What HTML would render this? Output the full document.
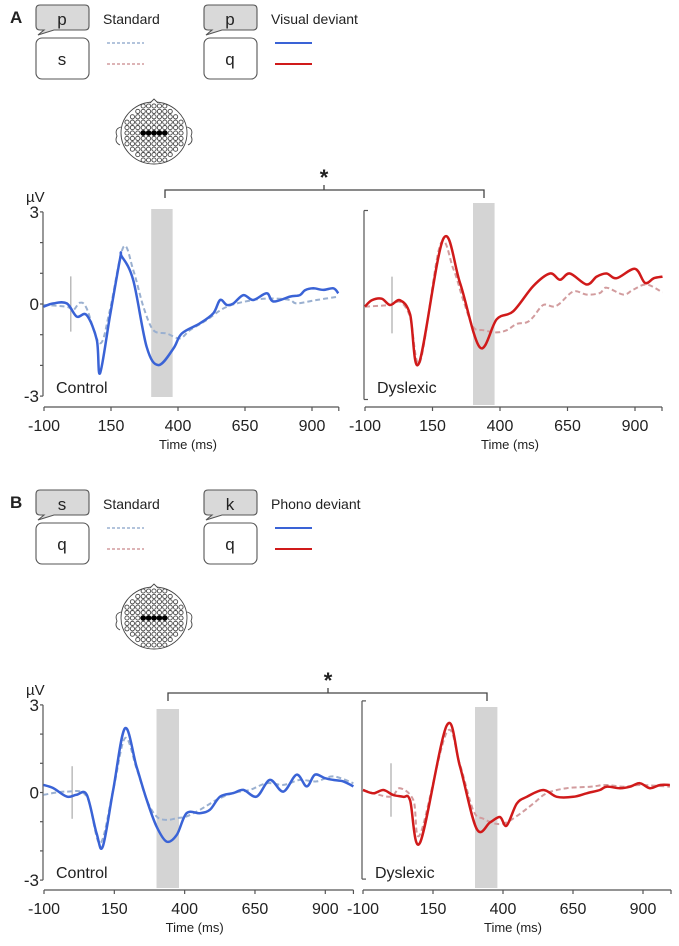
<!DOCTYPE html>
<html><head><meta charset="utf-8">
<style>
html,body{margin:0;padding:0;background:#fff;}
svg{display:block;font-family:"Liberation Sans",sans-serif;}
</style></head>
<body>
<svg id="fig" width="679" height="946" viewBox="0 0 679 946" xmlns="http://www.w3.org/2000/svg">
</svg>
<script>
// ---------- DATA ----------
const xTicks = [-100, 150, 400, 650, 900];
const yTickLabels = [3, 0, -3];
const bandRange = [300, 380];
// Panel A Control
const aCtrlDevT = [-102,-65,-15,22,59,97,109,146,184,190,233,283,327,383,414,482,532,557,582,607,644,681,731,756,818,855,874,905,942,980,998];
const aCtrlDevV = [-0.09,0.02,0.02,-0.41,-0.36,-1.17,-2.26,-0.4,1.48,1.55,0.78,-1.39,-1.99,-1.45,-0.96,-0.63,-0.30,0.13,-0.03,0.02,0.29,0.13,0.35,0.08,0.24,0.29,0.45,0.51,0.46,0.51,0.35];
const aCtrlStdT = [-102,-15,9,34,59,109,146,196,233,271,308,358,407,445,507,582,681,756,818,843,917,998];
const aCtrlStdV = [-0.03,-0.09,-0.20,0.04,-0.14,-1.28,-0.2,1.85,1.11,-0.09,-0.85,-0.96,-1.12,-0.85,-0.52,-0.09,0.13,0.18,0.13,0.02,0.13,0.24];
// Panel A Dyslexic
const aDysDevT = [-100,-75,-38,-7,30,67,100,190,252,326,388,449,523,585,622,659,721,758,795,832,900,937,970,1002];
const aDysDevV = [-0.05,0.15,0.2,0,0.15,-0.3,-1.85,2.1,0.7,-1.35,-0.45,-0.2,0.6,1.0,0.8,1.0,0.65,0.9,1.0,0.85,1.15,0.7,0.85,0.9];
const aDysStdT = [-100,-7,30,67,104,178,227,264,301,338,388,425,462,499,523,560,597,622,672,721,770,795,857,894,943,1002];
const aDysStdV = [-0.05,0,0.1,-0.38,-1.8,1.9,1.15,0.15,-0.7,-0.8,-0.87,-0.8,-0.6,-0.55,-0.38,0,-0.05,0.05,0.43,0.33,0.38,0.55,0.33,0.49,0.65,0.4];
// Panel B Control
const bCtrlDevT = [-102,-67,-19,16,52,87,109,146,188,229,265,300,336,372,407,455,490,526,573,609,656,703,751,798,834,863,899,928,964,1000];
const bCtrlDevV = [0.26,0.15,-0.14,-0.08,-0.08,-1.4,-1.85,0.09,2.2,0.89,-0.25,-1.16,-1.68,-1.45,-0.71,-0.71,-0.59,-0.14,-0.02,0.09,-0.14,0.43,0.03,0.61,0.21,0.61,0.49,0.43,0.38,0.21];
const bCtrlStdT = [-102,-19,52,99,146,188,229,265,300,336,372,407,455,514,573,632,692,751,810,869,928,1000];
const bCtrlStdV = [-0.08,0.03,-0.14,-1.74,0.09,1.86,0.83,-0.25,-0.82,-0.94,-0.88,-0.82,-0.59,-0.25,-0.02,0.09,0.32,0.26,0.43,0.38,0.55,0.32];
// Panel B Dyslexic
const bDysDevT = [-100,-63,-27,8,44,68,104,199,246,306,354,389,413,449,485,544,592,651,699,746,770,818,854,889,925,961,996];
const bDysDevV = [0,-0.11,0,-0.17,-0.23,-0.34,-1.77,2.17,0.8,-1.31,-1.09,-0.91,-1.2,-0.46,-0.23,0,-0.23,-0.23,-0.11,0,0.11,0.06,0.11,0.23,0.06,0.17,0.17];
const bDysStdT = [-100,-4,32,80,104,199,246,294,330,377,413,461,508,556,627,711,770,830,889,996];
const bDysStdV = [0,-0.23,0.06,-0.34,-1.49,1.94,0.86,-0.69,-0.97,-1.14,-1.09,-0.8,-0.46,-0.11,0.06,0.11,0.17,0.11,0.17,0.11];

// ---------- DRAW ----------
const svg = document.getElementById('fig');
const NS = 'http://www.w3.org/2000/svg';
function mk(tag, attrs, parent){
  const e = document.createElementNS(NS, tag);
  for (const k in attrs) e.setAttribute(k, attrs[k]);
  (parent||svg).appendChild(e);
  return e;
}
function txt(s, x, y, size, parent, anchor, weight){
  const t = mk('text', {x:x, y:y, 'font-size':size, fill:'#222', 'text-anchor':anchor||'start', 'font-weight':weight||'normal'}, parent);
  t.textContent = s;
  return t;
}
function smoothPath(pts){
  let d = 'M' + pts[0][0].toFixed(1) + ',' + pts[0][1].toFixed(1);
  for (let i=0;i<pts.length-1;i++){
    const p0 = pts[Math.max(0,i-1)], p1 = pts[i], p2 = pts[i+1], p3 = pts[Math.min(pts.length-1,i+2)];
    const c1x = p1[0]+(p2[0]-p0[0])/6, c1y = p1[1]+(p2[1]-p0[1])/6;
    const c2x = p2[0]-(p3[0]-p1[0])/6, c2y = p2[1]-(p3[1]-p1[1])/6;
    d += ' C'+c1x.toFixed(1)+','+c1y.toFixed(1)+' '+c2x.toFixed(1)+','+c2y.toFixed(1)+' '+p2[0].toFixed(1)+','+p2[1].toFixed(1);
  }
  return d;
}

function panel(cfg){
  const g = mk('g', {});
  
  
  const X = ms => cfg.x0 + (ms + 100) * cfg.pxms;
  const Y = uv => cfg.y0 - uv * cfg.pxuv;
  // band
  const band = mk('rect', {x:X(bandRange[0]), y:cfg.bandTop, width:X(bandRange[1])-X(bandRange[0]), height:cfg.bandBot-cfg.bandTop, fill:'#d4d4d4'}, g);
  
  
  // y axis
  const ya = mk('g', {stroke:'#555', 'stroke-width':1.2, fill:'none'}, g);
  
  
  mk('line', {x1:cfg.ax, y1:Y(3), x2:cfg.ax, y2:Y(-3)}, ya);
  if (cfg.labels){
    for (let v=-3; v<=3; v++) mk('line', {x1:cfg.ax-3, y1:Y(v), x2:cfg.ax, y2:Y(v)}, ya);
    yTickLabels.forEach(v=>{
      const t = txt(String(v), cfg.ax-4, Y(v)+6, 17, g, 'end');
      
      
    });
    const u = txt('µV', cfg.ax-17, Y(3)-10, 15, g);
    
    
  } else {
    mk('line', {x1:cfg.ax, y1:Y(3), x2:cfg.ax+4, y2:Y(3)}, ya);
    mk('line', {x1:cfg.ax, y1:Y(-3), x2:cfg.ax+4, y2:Y(-3)}, ya);
  }
  // x axis
  const xa = mk('g', {stroke:'#555', 'stroke-width':1.2, fill:'none'}, g);
  
  
  mk('line', {x1:X(-100), y1:cfg.xaY, x2:X(1000), y2:cfg.xaY}, xa);
  xTicks.concat([1000]).forEach(v=> mk('line', {x1:X(v), y1:cfg.xaY, x2:X(v), y2:cfg.xaY+4}, xa));
  xTicks.forEach(v=>{
    const t = txt(String(v), X(v), cfg.xaY+24, 16, g, 'middle');
    
    
  });
  const xt = txt('Time (ms)', X(400)+10, cfg.xaY+42, 13, g, 'middle');
  
  
  // onset marker
  const om = mk('line', {x1:X(0), y1:Y(0.9), x2:X(0), y2:Y(-0.9), stroke:'#aaa', 'stroke-width':1.2}, g);
  
  
  // series
  const ps = mk('path', {d:smoothPath(cfg.stdT.map((t,i)=>[X(t),Y(cfg.stdV[i])])), fill:'none', stroke:cfg.stdCol, 'stroke-width':2, 'stroke-dasharray':'5,3'}, g);
  
  
  const pd = mk('path', {d:smoothPath(cfg.devT.map((t,i)=>[X(t),Y(cfg.devV[i])])), fill:'none', stroke:cfg.devCol, 'stroke-width':2.5}, g);
  
  
  const gl = txt(cfg.group, cfg.ax+13, cfg.groupY, 16, g);
  
  
}

const blue='#3a63d6', blueD='#9ab0d0', red='#d01a1a', redD='#d29c9e';
panel({name:'panel-a-control', x0:44, pxms:0.268, y0:304, pxuv:30.7, ax:43, xaY:407, bandTop:209, bandBot:397, labels:true,
  devT:aCtrlDevT, devV:aCtrlDevV, stdT:aCtrlStdT, stdV:aCtrlStdV, devCol:blue, stdCol:blueD, group:'Control', groupY:393});
panel({name:'panel-a-dyslexic', x0:365, pxms:0.27, y0:305, pxuv:31.5, ax:364, xaY:407, bandTop:203, bandBot:405, labels:false,
  devT:aDysDevT, devV:aDysDevV, stdT:aDysStdT, stdV:aDysStdV, devCol:red, stdCol:redD, group:'Dyslexic', groupY:393});
panel({name:'panel-b-control', x0:44, pxms:0.2813, y0:792.5, pxuv:29.2, ax:43, xaY:890, bandTop:709, bandBot:888, labels:true,
  devT:bCtrlDevT, devV:bCtrlDevV, stdT:bCtrlStdT, stdV:bCtrlStdV, devCol:blue, stdCol:blueD, group:'Control', groupY:878});
panel({name:'panel-b-dyslexic', x0:363, pxms:0.28, y0:790, pxuv:29.7, ax:362, xaY:890, bandTop:707, bandBot:888, labels:false,
  devT:bDysDevT, devV:bDysDevV, stdT:bDysStdT, stdV:bDysStdV, devCol:red, stdCol:redD, group:'Dyslexic', groupY:878});

// significance brackets
function bracket(y, x1, x2, xs, name){
  const g = mk('g', {stroke:'#444', 'stroke-width':1.3, fill:'none'});
  
  
  mk('path', {d:'M'+x1+','+(y+8)+' V'+y+' H'+x2+' V'+(y+8)+' M'+xs+','+y+' V'+(y-5)}, g);
  const s = txt('*', xs, y-5, 22, svg, 'middle', 'bold');
  
  
}
bracket(190, 165, 484, 324, 'significance-bracket-a');
bracket(693, 168, 487, 328, 'significance-bracket-b');

// legends
function legend(dy, letter, top, bottom, label){
  const g = mk('g', {transform:'translate(0,'+dy+')'});
  
  
  const pl = txt(letter, 10, 23, 17, g, 'start', 'bold');
  
  
  [[36, top[0], bottom[0], 'Standard', true],[204, top[1], bottom[1], label, false]].forEach(([bx, t, b, lab, dashed])=>{
    const bub = mk('path', {d:'M'+(bx+4)+',5 H'+(bx+49)+' Q'+(bx+53)+',5 '+(bx+53)+',9 V26 Q'+(bx+53)+',30 '+(bx+49)+',30 H'+(bx+18)+' L'+(bx+2)+',35 L'+(bx+8)+',30 H'+(bx+4)+' Q'+bx+',30 '+bx+',26 V9 Q'+bx+',5 '+(bx+4)+',5 Z', fill:'#d9d9d9', stroke:'#555', 'stroke-width':1.1}, g);
    
    
    txt(t, bx+26, 25, 17, g, 'middle');
    const box = mk('rect', {x:bx, y:38, width:53, height:41, rx:6, fill:'#fff', stroke:'#555', 'stroke-width':1.1}, g);
    
    
    txt(b, bx+26, 65, 17, g, 'middle');
    txt(lab, bx+67, 24, 14, g);
    const c1 = dashed ? blueD : blue, c2 = dashed ? redD : red;
    const l1 = mk('line', {x1:bx+71, y1:43, x2:bx+108, y2:43, stroke:c1, 'stroke-width':dashed?1.5:2, 'stroke-dasharray':dashed?'3,2':'none'}, g);
    
    
    const l2 = mk('line', {x1:bx+71, y1:64, x2:bx+108, y2:64, stroke:c2, 'stroke-width':dashed?1.5:2, 'stroke-dasharray':dashed?'3,2':'none'}, g);
    
    
  });
}
legend(0, 'A', ['p','p'], ['s','q'], 'Visual deviant');
legend(485, 'B', ['s','k'], ['q','q'], 'Phono deviant');

// head icons
function head(cx, cy, name){
  const g = mk('g', {fill:'#fff', stroke:'#444', 'stroke-width':0.9});
  
  
  mk('path', {d:'M'+(cx-33)+','+(cy-6)+' q-7,2 -4,9 q-3,6 3,9 M'+(cx+33)+','+(cy-6)+' q7,2 4,9 q3,6 -3,9'}, g);
  mk('ellipse', {cx:cx, cy:cy, rx:33, ry:31}, g);
  mk('path', {d:'M'+(cx-4)+','+(cy-30)+' L'+cx+','+(cy-34)+' L'+(cx+4)+','+(cy-30)}, g);
  for (let r=-5; r<=5; r++){
    const yy = cy + r*5.4;
    const half = Math.sqrt(Math.max(0, 1 - (r*5.4/30)**2))*30;
    for (let xx = cx - Math.floor(half/5.4)*5.4; xx <= cx + half; xx += 5.4){
      mk('circle', {cx:xx.toFixed(1), cy:yy.toFixed(1), r:2.1}, g);
    }
  }
  for (let i=-2;i<=2;i++) mk('circle', {cx:cx+i*5.4, cy:cy, r:2.4, fill:'#000', stroke:'#000'}, g);
}
head(154, 133, 'electrode-map-a');
head(154, 618, 'electrode-map-b');
</script>
</body></html>
